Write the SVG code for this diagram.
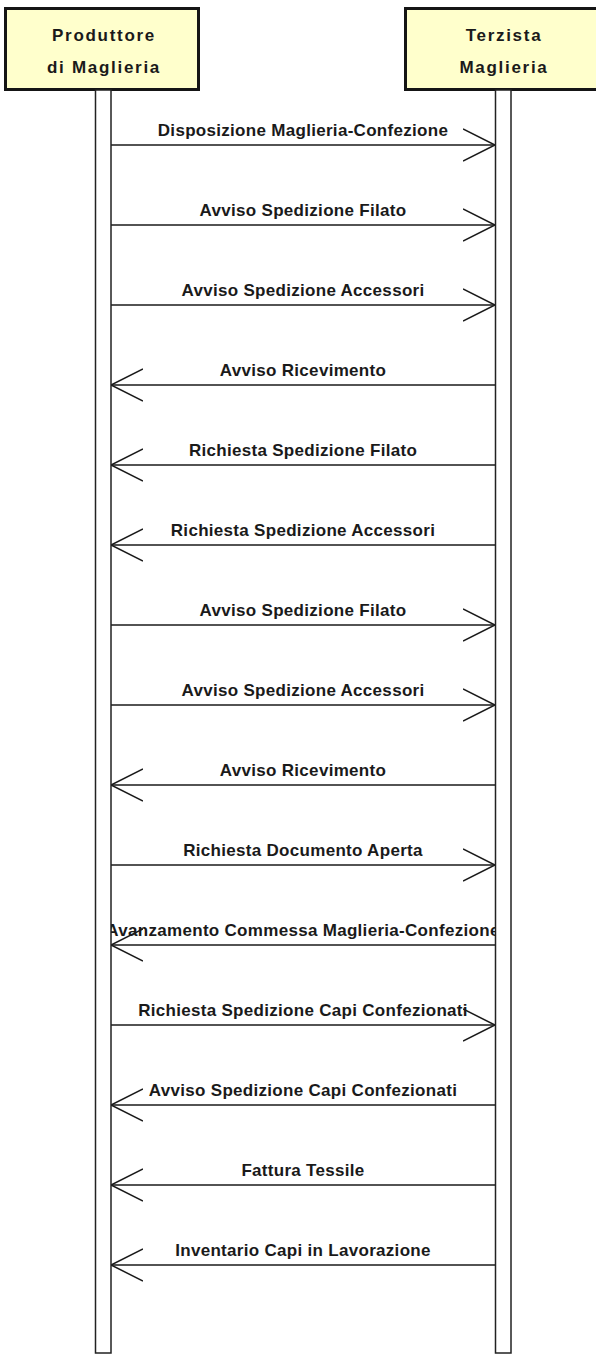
<svg xmlns="http://www.w3.org/2000/svg" width="596" height="1354" viewBox="0 0 596 1354">
<style>
.box{fill:#FFFFCC;stroke:#151515;stroke-width:3}
.ttl{font-family:"Liberation Sans",Arial,sans-serif;font-weight:bold;font-size:17px;letter-spacing:1.7px;fill:#1a1a1a;text-anchor:middle}
.life{fill:#fff;stroke:#222;stroke-width:1.5}
.msg{stroke:#1a1a1a;stroke-width:1.5;fill:none;marker-end:url(#open)}
.lbl{font-family:"Liberation Sans",Arial,sans-serif;font-weight:bold;font-size:17px;letter-spacing:0.3px;fill:#1a1a1a;text-anchor:middle}
</style>
<defs>
<marker id="open" markerUnits="userSpaceOnUse" markerWidth="36" markerHeight="36" refX="32" refY="17" orient="auto" viewBox="0 0 36 36">
<path d="M0,1 L32,17 L0,33" fill="none" stroke="#1a1a1a" stroke-width="1.5"/>
</marker>
</defs>
<rect width="596" height="1354" fill="#fff"/>
<g id="connectors">
<line class="msg" x1="111" y1="145" x2="495" y2="145"/><text class="lbl" x="303" y="136">Disposizione Maglieria-Confezione</text>
<line class="msg" x1="111" y1="225" x2="495" y2="225"/><text class="lbl" x="303" y="216">Avviso Spedizione Filato</text>
<line class="msg" x1="111" y1="305" x2="495" y2="305"/><text class="lbl" x="303" y="296">Avviso Spedizione Accessori</text>
<line class="msg" x1="495" y1="385" x2="111" y2="385"/><text class="lbl" x="303" y="376">Avviso Ricevimento</text>
<line class="msg" x1="495" y1="465" x2="111" y2="465"/><text class="lbl" x="303" y="456">Richiesta Spedizione Filato</text>
<line class="msg" x1="495" y1="545" x2="111" y2="545"/><text class="lbl" x="303" y="536">Richiesta Spedizione Accessori</text>
<line class="msg" x1="111" y1="625" x2="495" y2="625"/><text class="lbl" x="303" y="616">Avviso Spedizione Filato</text>
<line class="msg" x1="111" y1="705" x2="495" y2="705"/><text class="lbl" x="303" y="696">Avviso Spedizione Accessori</text>
<line class="msg" x1="495" y1="785" x2="111" y2="785"/><text class="lbl" x="303" y="776">Avviso Ricevimento</text>
<line class="msg" x1="111" y1="865" x2="495" y2="865"/><text class="lbl" x="303" y="856">Richiesta Documento Aperta</text>
<line class="msg" x1="495" y1="945" x2="111" y2="945"/><text class="lbl" x="303" y="936">Avanzamento Commessa Maglieria-Confezione</text>
<line class="msg" x1="111" y1="1025" x2="495" y2="1025"/><text class="lbl" x="303" y="1016">Richiesta Spedizione Capi Confezionati</text>
<line class="msg" x1="495" y1="1105" x2="111" y2="1105"/><text class="lbl" x="303" y="1096">Avviso Spedizione Capi Confezionati</text>
<line class="msg" x1="495" y1="1185" x2="111" y2="1185"/><text class="lbl" x="303" y="1176">Fattura Tessile</text>
<line class="msg" x1="495" y1="1265" x2="111" y2="1265"/><text class="lbl" x="303" y="1256">Inventario Capi in Lavorazione</text>
</g>
<g id="produttore">
<rect class="box" x="5.5" y="8.5" width="193" height="81"/>
<text class="ttl" x="104" y="41">Produttore</text>
<text class="ttl" x="104" y="73">di Maglieria</text>
<rect class="life" x="95.5" y="90" width="15.5" height="1263"/>
</g>
<g id="terzista">
<rect class="box" x="405.5" y="8.5" width="194" height="81"/>
<text class="ttl" x="504" y="41">Terzista</text>
<text class="ttl" x="504" y="73">Maglieria</text>
<rect class="life" x="495.5" y="90" width="15.5" height="1263"/>
</g>
</svg>
